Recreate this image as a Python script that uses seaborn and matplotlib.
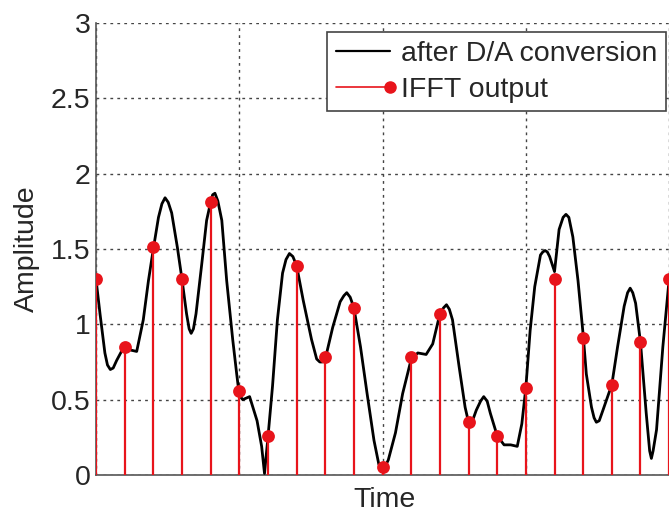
import numpy as np
import pandas as pd
import matplotlib
matplotlib.use("Agg")
import matplotlib.pyplot as plt
import seaborn as sns
from matplotlib.lines import Line2D
from matplotlib.legend_handler import HandlerBase

# IFFT output samples (one per time index)
n_samples = list(range(21))
ifft_values = [1.30, 0.85, 1.51, 1.30, 1.81, 0.56, 0.26, 1.39, 0.78, 1.11, 0.05,
               0.78, 1.07, 0.35, 0.26, 0.58, 1.30, 0.91, 0.60, 0.88, 1.30]

# signal after D/A conversion
da_time = [0.00, 0.14, 0.31, 0.40, 0.50, 0.60, 0.72, 1.00, 1.19, 1.42,
           1.65, 1.83, 2.00, 2.18, 2.30, 2.41, 2.52, 2.64, 2.84, 3.00,
           3.16, 3.25, 3.32, 3.40, 3.49, 3.69, 3.86, 4.00, 4.07, 4.15,
           4.25, 4.39, 4.56, 4.77, 4.91, 5.00, 5.12, 5.36, 5.62, 5.78,
           5.88, 6.00, 6.16, 6.33, 6.51, 6.63, 6.75, 6.87, 7.00, 7.23,
           7.52, 7.70, 7.81, 7.90, 8.00, 8.26, 8.52, 8.65, 8.75, 8.87,
           9.00, 9.23, 9.46, 9.70, 9.87, 9.95, 10.00, 10.10, 10.20, 10.45,
           10.70, 11.00, 11.23, 11.52, 11.75, 12.00, 12.13, 12.23, 12.33, 12.44,
           12.67, 12.88, 13.00, 13.10, 13.27, 13.42, 13.53, 13.65, 13.76, 14.00,
           14.24, 14.47, 14.70, 14.86, 15.00, 15.15, 15.31, 15.51, 15.59, 15.67,
           15.75, 15.83, 16.00, 16.16, 16.30, 16.40, 16.50, 16.64, 16.82, 17.00,
           17.11, 17.29, 17.38, 17.46, 17.56, 17.69, 18.00, 18.20, 18.43, 18.55,
           18.64, 18.73, 18.83, 19.00, 19.20, 19.32, 19.38, 19.44, 19.56, 19.78,
           20.00]
da_values = [1.30, 1.07, 0.81, 0.73, 0.70, 0.71, 0.76, 0.86, 0.83, 0.82,
             1.03, 1.29, 1.50, 1.71, 1.80, 1.84, 1.81, 1.74, 1.51, 1.30,
             1.07, 0.97, 0.94, 0.97, 1.07, 1.40, 1.69, 1.81, 1.86, 1.87,
             1.82, 1.69, 1.29, 0.90, 0.67, 0.53, 0.50, 0.52, 0.36, 0.19,
             0.01, 0.25, 0.59, 1.03, 1.34, 1.43, 1.47, 1.45, 1.39, 1.16,
             0.90, 0.77, 0.75, 0.75, 0.77, 0.98, 1.15, 1.19, 1.21, 1.18,
             1.11, 0.85, 0.54, 0.23, 0.07, 0.05, 0.04, 0.06, 0.10, 0.28,
             0.54, 0.77, 0.81, 0.80, 0.87, 1.07, 1.11, 1.13, 1.10, 1.03,
             0.72, 0.45, 0.35, 0.34, 0.43, 0.49, 0.52, 0.49, 0.41, 0.26,
             0.20, 0.20, 0.19, 0.34, 0.58, 0.96, 1.25, 1.46, 1.48, 1.49,
             1.48, 1.45, 1.35, 1.63, 1.71, 1.73, 1.71, 1.58, 1.29, 0.93,
             0.67, 0.45, 0.38, 0.35, 0.36, 0.43, 0.60, 0.85, 1.12, 1.21,
             1.24, 1.21, 1.14, 0.88, 0.41, 0.16, 0.11, 0.16, 0.30, 0.85,
             1.30]

y_ticks = [0, 0.5, 1, 1.5, 2, 2.5, 3]
y_tick_labels = ["0", "0.5", "1", "1.5", "2", "2.5", "3"]

RED = "#e8141b"
FS = 20.5


class StemLegendHandler(HandlerBase):
    # matlab-style stem legend entry: line with a dot at the right end
    def create_artists(self, legend, orig_handle, xdescent, ydescent,
                       width, height, fontsize, trans):
        y = height / 2 - ydescent
        line = Line2D([-xdescent, width - xdescent], [y, y],
                      color=RED, lw=1.2, transform=trans)
        dot = Line2D([width - xdescent], [y], marker="o", color=RED,
                     ms=8, lw=0, transform=trans)
        return [line, dot]


sns.set_style("white")
plt.rcParams["font.family"] = ["Liberation Sans", "DejaVu Sans"]

curve = pd.DataFrame({"t": da_time, "amp": da_values})
samples = pd.DataFrame({"n": n_samples, "amp": ifft_values})

fig = plt.figure(figsize=(6.69, 5.15), dpi=100)
ax = fig.add_axes([0.1435, 0.0777, 0.861, 0.8776])

sns.lineplot(data=curve, x="t", y="amp", ax=ax, color="black", lw=2.0,
             sort=False, zorder=3)
ax.vlines(samples["n"], 0, samples["amp"], color=RED, lw=1.6, zorder=4)
sns.scatterplot(data=samples, x="n", y="amp", ax=ax, color=RED, s=85,
                edgecolor=RED, linewidth=0, zorder=5)

ax.set_xlim(0, 20.1)
ax.set_ylim(0, 3)
ax.set_xticks([0, 5, 10, 15, 20])
ax.set_xticklabels([])
ax.set_yticks(y_ticks)
ax.set_yticklabels(y_tick_labels)
ax.grid(True, color="#444444", linestyle=(0, (2, 3)), lw=1.0)
ax.tick_params(axis="both", direction="in", length=5, labelsize=FS,
               color="#444444", pad=4)
for side in ["top", "right"]:
    ax.spines[side].set_visible(False)
for side in ["left", "bottom"]:
    ax.spines[side].set_color("#555555")
    ax.spines[side].set_linewidth(1.2)

ax.set_xlabel("Time", fontsize=FS, labelpad=5)
ax.set_ylabel("Amplitude", fontsize=FS, labelpad=8)

h_line = Line2D([], [], color="black", lw=1.6)
h_stem = Line2D([], [], color=RED)
leg = ax.legend([h_line, h_stem], ["after D/A conversion", "IFFT output"],
                handler_map={h_stem: StemLegendHandler()},
                loc="upper right", bbox_to_anchor=(0.99, 0.98), borderaxespad=0,
                fontsize=FS, fancybox=False, framealpha=1, edgecolor="#444444",
                handlelength=1.9, handletextpad=0.4, labelspacing=0.35,
                borderpad=0.3)
leg.get_frame().set_linewidth(1.2)

fig.savefig("out.png", dpi=100)
